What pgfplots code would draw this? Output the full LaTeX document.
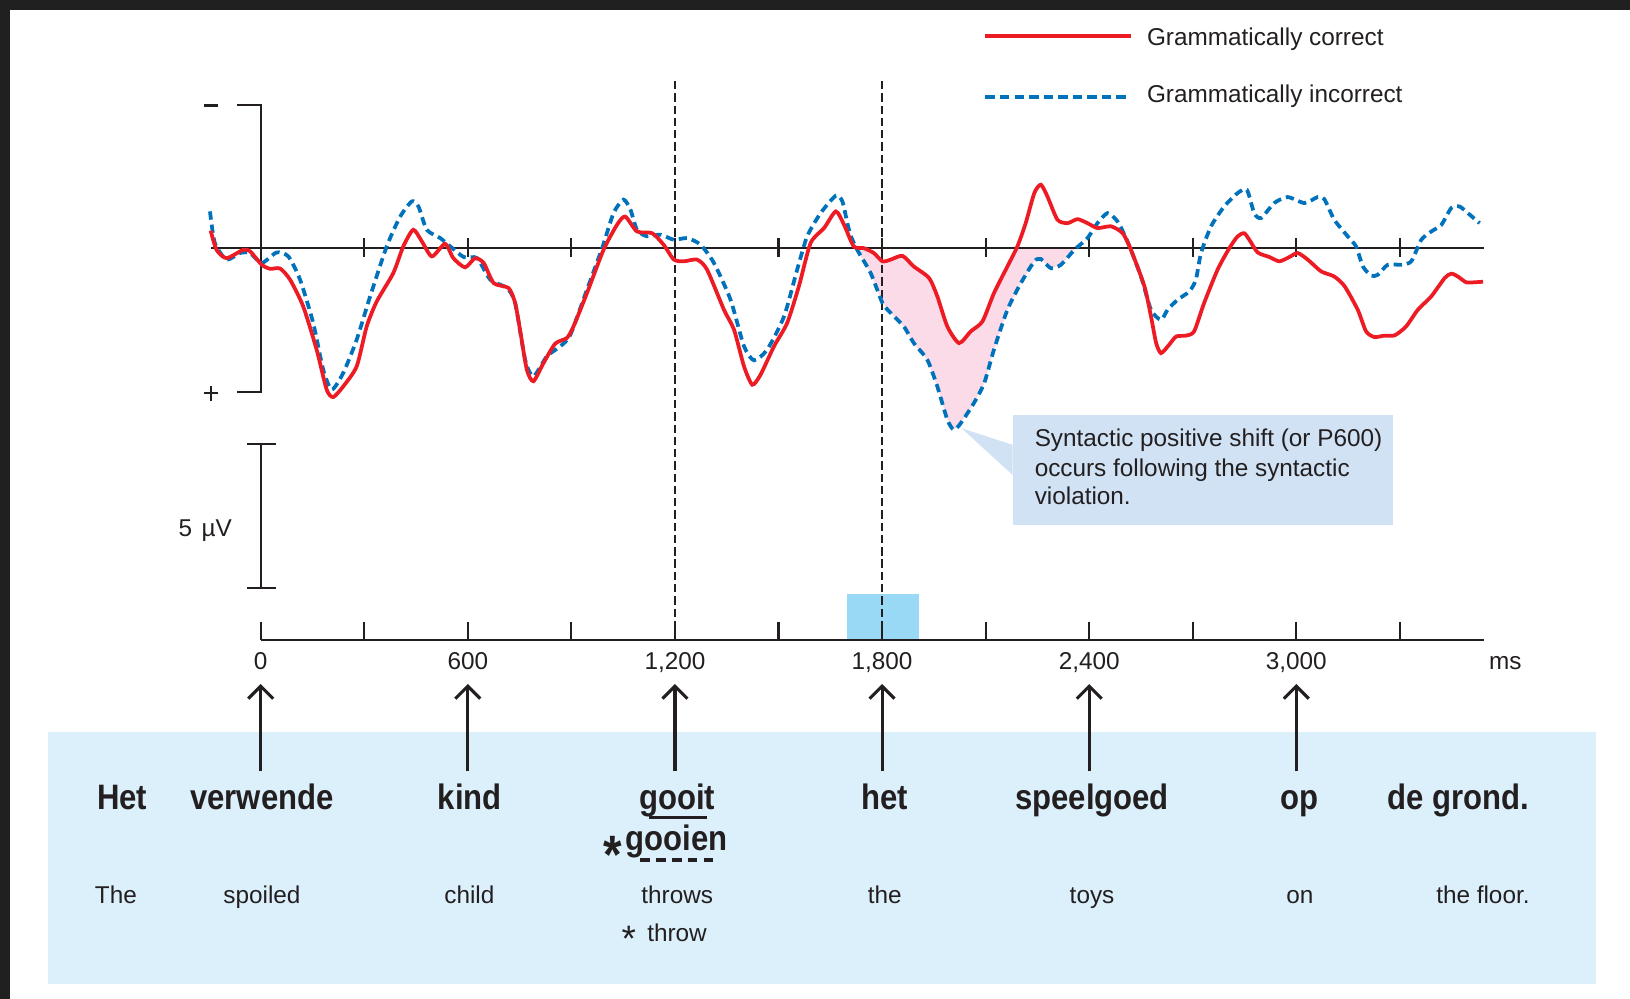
\documentclass[border=0pt]{standalone}
\usepackage{fontspec}
\setmainfont{Liberation Sans}
\newfontfamily\wordfont{Liberation Sans}[FakeStretch=0.88]
\usepackage{pgfplots}
\pgfplotsset{compat=1.18}
\usepackage{pgfplotstable}
\usetikzlibrary{arrows.meta}

\definecolor{ink}{HTML}{231F20}
\definecolor{erpred}{HTML}{ED1C24}
\definecolor{erpblue}{HTML}{0072BC}
\definecolor{pinkfill}{HTML}{FADBE7}
\definecolor{wordbox}{HTML}{DCF0FB}
\definecolor{callout}{HTML}{D0E2F4}
\definecolor{hilite}{HTML}{99D9F6}
\definecolor{framecol}{HTML}{202020}

\newcommand\rt{\fontsize{11.7}{14.1}\selectfont}
\newcommand\bw{\wordfont\bfseries\fontsize{17}{20}\selectfont}

\pgfplotstableread{
t v
-145 0.62
-128 -0.05
-99 -0.34
-51 -0.05
-31 -0.10
3 -0.57
27 -0.71
56 -0.70
85 -1.09
123 -2.02
162 -3.53
191 -4.92
210 -5.18
239 -4.81
278 -4.11
307 -2.72
336 -1.85
384 -0.86
413 0.07
442 0.65
467 0.24
496 -0.28
534 0.16
558 -0.34
592 -0.66
621 -0.34
646 -0.51
675 -1.21
718 -1.38
737 -1.90
752 -2.90
771 -4.23
790 -4.63
819 -4.00
853 -3.32
887 -3.12
906 -2.72
945 -1.56
993 -0.05
1032 0.82
1056 1.11
1090 0.59
1134 0.53
1167 0.13
1197 -0.39
1226 -0.45
1264 -0.39
1293 -0.74
1342 -2.14
1371 -2.83
1400 -4.11
1424 -4.75
1448 -4.40
1487 -3.41
1525 -2.60
1559 -1.32
1593 0.19
1632 0.71
1666 1.29
1690 0.82
1718 0.07
1747 0.01
1776 -0.16
1801 -0.45
1825 -0.39
1859 -0.26
1892 -0.63
1936 -1.03
1960 -1.67
1989 -2.72
2023 -3.30
2057 -2.89
2091 -2.54
2124 -1.56
2163 -0.63
2192 0.07
2216 0.88
2241 1.93
2260 2.22
2279 1.81
2308 1.00
2337 0.88
2366 1.02
2395 0.88
2424 0.71
2463 0.77
2497 0.53
2521 -0.05
2560 -1.32
2579 -2.37
2594 -3.30
2608 -3.65
2630 -3.38
2652 -3.07
2680 -3.04
2704 -2.89
2733 -1.90
2772 -0.74
2806 0.01
2830 0.42
2849 0.53
2864 0.30
2888 -0.14
2922 -0.30
2951 -0.45
2980 -0.30
3004 -0.16
3033 -0.39
3072 -0.80
3110 -0.98
3140 -1.32
3178 -2.14
3202 -2.89
3226 -3.09
3255 -3.04
3285 -3.03
3318 -2.72
3352 -2.14
3391 -1.67
3430 -1.03
3449 -0.88
3468 -0.98
3492 -1.18
3517 -1.18
3541 -1.16
}\redtab

\pgfplotstableread{
t v
-147 1.29
-133 0.19
-99 -0.39
-60 -0.16
-31 -0.16
3 -0.51
46 -0.14
80 -0.28
114 -1.09
152 -2.60
181 -4.23
206 -4.92
239 -4.34
278 -3.18
317 -1.67
365 0.07
404 1.11
438 1.64
457 1.46
481 0.65
520 0.36
549 0.07
588 -0.30
627 -0.34
665 -1.09
713 -1.38
737 -1.90
766 -3.88
790 -4.46
829 -3.76
868 -3.41
897 -3.01
945 -1.44
989 0.01
1022 1.23
1051 1.70
1071 1.35
1090 0.65
1119 0.42
1158 0.48
1197 0.30
1235 0.36
1274 0.13
1313 -0.51
1361 -1.79
1400 -3.41
1429 -3.90
1467 -3.53
1516 -2.37
1554 -0.74
1583 0.42
1622 1.23
1666 1.84
1685 1.64
1699 0.90
1709 0.45
1728 -0.05
1767 -0.86
1801 -1.90
1825 -2.25
1863 -2.72
1892 -3.30
1931 -3.88
1960 -4.81
1989 -5.97
2008 -6.32
2028 -6.09
2066 -5.39
2096 -4.69
2124 -3.53
2163 -2.14
2202 -1.21
2241 -0.45
2260 -0.37
2289 -0.69
2318 -0.57
2357 -0.05
2395 0.36
2424 0.88
2453 1.23
2482 0.94
2511 0.24
2550 -0.98
2579 -2.14
2608 -2.49
2627 -2.14
2656 -1.79
2690 -1.50
2709 -1.09
2724 -0.16
2753 0.77
2791 1.46
2830 1.93
2857 2.04
2878 1.23
2898 1.06
2936 1.58
2975 1.79
3024 1.58
3062 1.79
3081 1.72
3110 1.00
3149 0.42
3173 0.07
3193 -0.63
3217 -0.95
3236 -0.92
3265 -0.57
3304 -0.57
3333 -0.45
3362 0.30
3391 0.59
3420 0.82
3449 1.41
3473 1.46
3497 1.23
3531 0.88
}\bluetab

% shaded area: upper edge = min(correct, 0), lower edge = incorrect (reversed)
\pgfplotstableread{
t v
1725 0
1747 0
1776 -0.16
1801 -0.45
1825 -0.39
1859 -0.26
1892 -0.63
1936 -1.03
1960 -1.67
1989 -2.72
2023 -3.30
2057 -2.89
2091 -2.54
2124 -1.56
2163 -0.63
2187 0
2357 0
2357 -0.05
2318 -0.57
2289 -0.69
2260 -0.37
2241 -0.45
2202 -1.21
2163 -2.14
2124 -3.53
2096 -4.69
2066 -5.39
2028 -6.09
2008 -6.32
1989 -5.97
1960 -4.81
1931 -3.88
1892 -3.30
1863 -2.72
1825 -2.25
1801 -1.90
1767 -0.86
1728 -0.05
}\areatab

\begin{document}
\begin{tikzpicture}
\fill[white] (0pt,0pt) rectangle (784pt,480.5pt);
% ---------- background structure (pixel coordinates) ----------
\begin{scope}[shift={(0pt,480.5pt)},x=0.5pt,y=-0.5pt]
  \fill[framecol] (0,0) rectangle (1568,9.6);
  \fill[framecol] (0,0) rectangle (9.6,961);
  % highlight rectangle
  \fill[hilite] (815,571) rectangle (884,615);
\end{scope}

% ---------- shaded P600 difference ----------
\begin{axis}[at={(0pt,0pt)}, anchor=south west, scale only axis,
  width=784pt, height=480.5pt,
  xmin=-755.3, xmax=3966.7, ymin=-26.159, ymax=8.659,
  hide axis]
  \addplot[fill=pinkfill, draw=none, forget plot] table[x=t,y=v] {\areatab};
\end{axis}

\begin{scope}[shift={(0pt,480.5pt)},x=0.5pt,y=-0.5pt]
  % zero line and its ticks
  \draw[ink, line width=1pt] (203,239) -- (1428,239);
  \foreach \x in {350.4,450.0,549.7,649.3,748.9,848.5,948.1,1047.8,1147.4,1247.0,1346.6}
    \draw[ink, line width=1pt] (\x,229.3) -- (\x,247.5);
  % polarity bracket
  \draw[ink, line width=1pt] (228,101.3) -- (251.5,101.3) -- (251.5,377) -- (228,377);
  \draw[ink, line width=1pt] (196,101.5) -- (210,101.5);
  \draw[ink, line width=1pt] (196,378.4) -- (210,378.4);
  \draw[ink, line width=1pt] (203,371.5) -- (203,385.5);
  % scale bar
  \draw[ink, line width=1pt] (237.3,427.4) -- (265.5,427.4);
  \draw[ink, line width=1pt] (251.5,427.4) -- (251.5,565.3);
  \draw[ink, line width=1pt] (237.3,565.3) -- (265.5,565.3);
  \node[anchor=base west, inner sep=0pt, text=ink, font=\rt] at (171.5,516.3) {5\hspace{4.5pt}µV};
  % onset dashed lines
  \draw[ink, line width=0.8pt, dash pattern=on 4pt off 1.9pt] (649.3,78) -- (649.3,614);
  \draw[ink, line width=0.8pt, dash pattern=on 4pt off 1.9pt] (848.5,78) -- (848.5,614);
  % time axis
  \draw[ink, line width=1pt] (250.8,615.3) -- (1428,615.3);
  \foreach \x in {250.8,350.4,450.0,549.7,649.3,748.9,848.5,948.1,1047.8,1147.4,1247.0,1346.6}
    \draw[ink, line width=1pt] (\x,598) -- (\x,615.3);
\end{scope}

% ---------- ERP waveforms ----------
\begin{axis}[at={(0pt,0pt)}, anchor=south west, scale only axis,
  width=784pt, height=480.5pt,
  xmin=-755.3, xmax=3966.7, ymin=-26.159, ymax=8.659,
  hide axis]
  \addplot[erpblue, line width=1.8pt, dash pattern=on 4pt off 2.4pt,
           smooth, tension=0.4] table[x=t,y=v] {\bluetab};
  \addplot[erpred, line width=1.8pt, smooth, tension=0.4]
           table[x=t,y=v] {\redtab};
\end{axis}

% ---------- annotations (pixel coordinates) ----------
\begin{scope}[shift={(0pt,480.5pt)},x=0.5pt,y=-0.5pt]
  % tick labels
  \foreach \x/\l in {250.8/0,450.0/600,649.3/{1,200},848.5/{1,800},1047.8/{2,400},1247.0/{3,000},1448/ms}
    \node[anchor=base, inner sep=0pt, text=ink, font=\rt] at (\x,644.5) {\l};
  % callout
  \fill[callout] (974.2,428) -- (925,412) -- (974.2,457) -- cycle;
  \fill[callout] (974.2,399.2) rectangle (1340,505);
  \node[anchor=base west, inner sep=0pt, text=ink, font=\rt] at (995,429.7) {Syntactic positive shift (or P600)};
  \node[anchor=base west, inner sep=0pt, text=ink, font=\rt] at (995,458) {occurs following the syntactic};
  \node[anchor=base west, inner sep=0pt, text=ink, font=\rt] at (995,485.8) {violation.};
  % word box
  \fill[wordbox] (46,704) rectangle (1535,946.5);
  \foreach \x in {250.8,450.0,649.3,848.5,1047.8,1247.0}
    \draw[ink, line width=1.5pt, -{Straight Barb[length=6pt,width=12pt]}] (\x,742) -- (\x,658);
  % Dutch words
  \foreach \x/\w in {117.5/Het,252/verwende,452/kind,651.5/gooit,851/het,1050.5/speelgoed,1250/op,1403/{de grond.}}
    \node[anchor=base, inner sep=0pt, text=ink, font=\bw] at (\x,779) {\w};
  \draw[ink, line width=1.3pt] (624.6,786.3) -- (679.8,786.3);
  \node[anchor=base, inner sep=0pt, text=ink, font=\bw] at (651,818.3) {gooien};
  \node[anchor=base, inner sep=0pt, text=ink, font={\wordfont\bfseries\fontsize{26}{26}\selectfont}] at (589,840) {*};
  \draw[ink, line width=1.5pt, dash pattern=on 4.65pt off 3pt] (615.7,827.3) -- (686.2,827.3);
  % English words
  \foreach \x/\w in {111.5/The,252/spoiled,451.5/child,651.5/throws,851/the,1050.5/toys,1250.5/on,1426.5/{the floor.}}
    \node[anchor=base, inner sep=0pt, text=ink, font=\rt] at (\x,869) {\w};
  \node[anchor=base, inner sep=0pt, text=ink, font=\rt] at (651.3,905.9) {throw};
  \node[anchor=base, inner sep=0pt, text=ink, font={\fontsize{17.7}{18}\selectfont}] at (604.8,915) {*};
  % legend
  \draw[erpred, line width=1.8pt] (948,35) -- (1088,35);
  \draw[erpblue, line width=1.8pt, dash pattern=on 4.5pt off 2.5pt] (948,93) -- (1088,93);
  \node[anchor=base west, inner sep=0pt, text=ink, font=\rt] at (1103,44) {Grammatically correct};
  \node[anchor=base west, inner sep=0pt, text=ink, font=\rt] at (1103,98.4) {Grammatically incorrect};
\end{scope}
\end{tikzpicture}
\end{document}
